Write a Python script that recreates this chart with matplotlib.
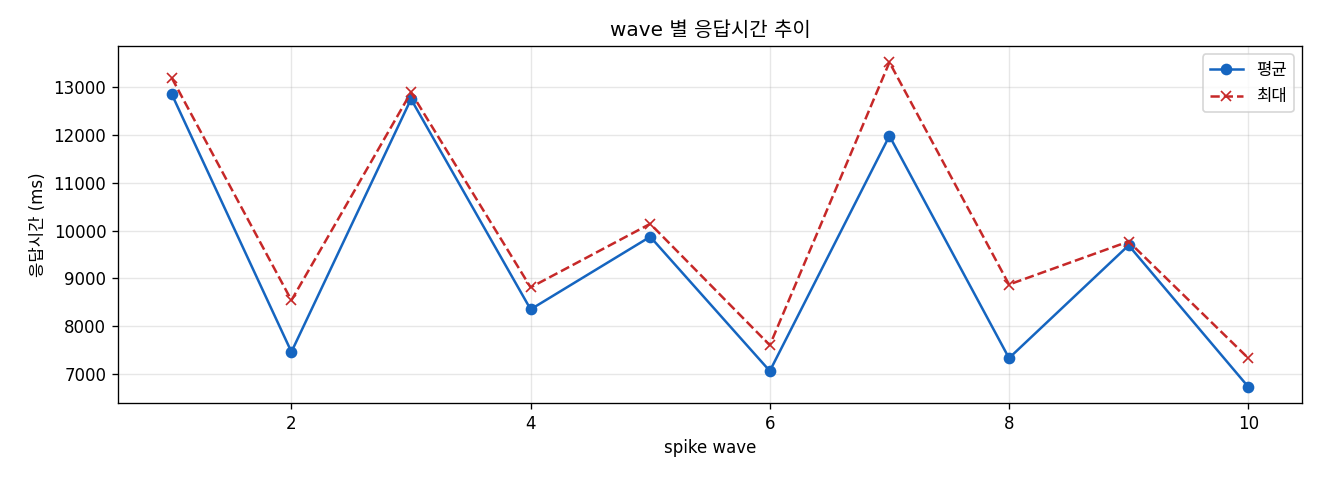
import matplotlib
matplotlib.use('Agg')
import matplotlib.pyplot as plt

plt.rcParams['font.family'] = ['DejaVu Sans', 'Noto Sans CJK KR']
plt.rcParams['axes.unicode_minus'] = False

# wave 별 응답시간 (ms)
waves = [1, 2, 3, 4, 5, 6, 7, 8, 9, 10]
avg_ms = [12850, 7460, 12750, 8350, 9870, 7060, 11980, 7330, 9690, 6730]
max_ms = [13190, 8540, 12890, 8810, 10140, 7600, 13520, 8870, 9770, 7330]

fig, ax = plt.subplots(figsize=(11, 4), dpi=120)
ax.plot(waves, avg_ms, marker='o', color='#1565C0', markersize=6, label='평균')
ax.plot(waves, max_ms, marker='x', linestyle='--', color='#C62828', markersize=6, label='최대')
ax.set_title('wave 별 응답시간 추이')
ax.set_xlabel('spike wave')
ax.set_ylabel('응답시간 (ms)')
ax.grid(True, alpha=0.3)
ax.legend(loc='upper right')
fig.subplots_adjust(left=0.0894, right=0.9864, top=0.904, bottom=0.1604)
plt.savefig('out.png')
